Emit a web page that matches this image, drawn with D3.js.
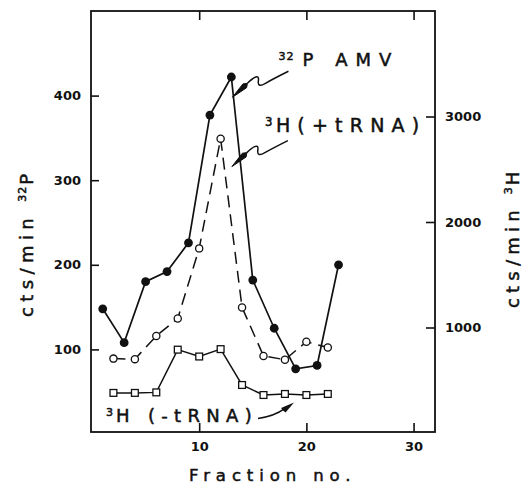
<!DOCTYPE html>
<html>
<head>
<meta charset="utf-8">
<script src="https://cdn.jsdelivr.net/npm/d3@7"></script>
<style>
body { margin: 0; background: #fff; }
text { font-family: "DejaVu Sans", sans-serif; fill: #111; }
.lbl { stroke: #111; stroke-width: 0.5; }
</style>
</head>
<body>
<script>
const WIDTH = 522;
const HEIGHT = 485;
const LEFT = 91, RIGHT = 435, TOP = 11, BOTTOM = 432;

// 32P AMV : filled circles, left axis
const pFractions = [1, 3, 5, 7, 9, 11, 13, 15, 17, 19, 21, 23];
const pCounts = [148, 108, 180, 192, 226, 377, 422, 182, 125, 77, 81, 200];

// 3H (+tRNA) : open circles, dashed line, right axis
const plusFractions = [2, 4, 6, 8, 10, 12, 14, 16, 18, 20, 22];
const plusCounts = [705, 700, 920, 1085, 1750, 2790, 1190, 730, 695, 865, 810];

// 3H (-tRNA) : open squares, right axis
const minusFractions = [2, 4, 6, 8, 10, 12, 14, 16, 18, 20, 22];
const minusCounts = [380, 380, 385, 790, 725, 795, 455, 360, 370, 360, 370];

const xTicks = [10, 20, 30];
const leftTicks = [100, 200, 300, 400];
const rightTicks = [1000, 2000, 3000];

const svg = d3.select("body").append("svg")
    .attr("width", WIDTH)
    .attr("height", HEIGHT);

const x = d3.scaleLinear().domain([0, 32]).range([LEFT + 1, RIGHT]);
const yL = d3.scaleLinear().domain([0, 500]).range([BOTTOM + 2, TOP]);
const yR = d3.scaleLinear().domain([0, 4000]).range([BOTTOM + 1, TOP]);

// frame
svg.append("rect")
    .attr("x", LEFT).attr("y", TOP)
    .attr("width", RIGHT - LEFT).attr("height", BOTTOM - TOP)
    .attr("fill", "none").attr("stroke", "#111").attr("stroke-width", 1.8);

// axes, ticks pointing inward
const styleAxis = g => {
    g.select(".domain").remove();
    g.selectAll(".tick line").attr("stroke", "#111").attr("stroke-width", 1.6);
    g.selectAll(".tick text")
        .style("font-family", "'DejaVu Sans', sans-serif")
        .style("font-size", "13px")
        .style("font-weight", "bold")
        .attr("fill", "#111");
};

svg.append("g").attr("transform", "translate(0," + BOTTOM + ")")
    .call(d3.axisBottom(x).tickValues(xTicks).tickSize(-9).tickPadding(10))
    .call(styleAxis);

svg.append("g").attr("transform", "translate(0," + TOP + ")")
    .call(d3.axisTop(x).tickValues(xTicks).tickSize(-9).tickFormat(""))
    .call(styleAxis);

svg.append("g").attr("transform", "translate(" + LEFT + ",0)")
    .call(d3.axisLeft(yL).tickValues(leftTicks).tickSize(-8).tickPadding(10))
    .call(styleAxis);

svg.append("g").attr("transform", "translate(" + RIGHT + ",0)")
    .call(d3.axisRight(yR).tickValues(rightTicks).tickSize(-9).tickPadding(10).tickFormat(d3.format("d")))
    .call(styleAxis);

// series
const pData = pFractions.map((f, i) => ({f: f, v: pCounts[i]}));
const plusData = plusFractions.map((f, i) => ({f: f, v: plusCounts[i]}));
const minusData = minusFractions.map((f, i) => ({f: f, v: minusCounts[i]}));

const lineL = d3.line().x(d => x(d.f)).y(d => yL(d.v));
const lineR = d3.line().x(d => x(d.f)).y(d => yR(d.v));

svg.append("path").datum(minusData)
    .attr("d", lineR).attr("fill", "none")
    .attr("stroke", "#111").attr("stroke-width", 1.5);

svg.append("path").datum(plusData)
    .attr("d", lineR).attr("fill", "none")
    .attr("stroke", "#111").attr("stroke-width", 1.5)
    .attr("stroke-dasharray", "12,7");

svg.append("path").datum(pData)
    .attr("d", lineL).attr("fill", "none")
    .attr("stroke", "#111").attr("stroke-width", 1.7);

svg.selectAll(".sq").data(minusData).enter().append("rect")
    .attr("x", d => x(d.f) - 3.4).attr("y", d => yR(d.v) - 3.4)
    .attr("width", 6.8).attr("height", 6.8)
    .attr("fill", "#fff").attr("stroke", "#111").attr("stroke-width", 1.3);

svg.selectAll(".oc").data(plusData).enter().append("circle")
    .attr("cx", d => x(d.f)).attr("cy", d => yR(d.v)).attr("r", 3.6)
    .attr("fill", "#fff").attr("stroke", "#111").attr("stroke-width", 1.3);

svg.selectAll(".fc").data(pData).enter().append("circle")
    .attr("cx", d => x(d.f)).attr("cy", d => yL(d.v)).attr("r", 4.4)
    .attr("fill", "#111");

// labels with squiggly leaders
const squiggle = "M15,-14 C20,-19 27,-24 26,-17 C25,-11 28,-11 33,-14 C42,-19 50,-23 56,-26";
const head = "M0,0 L10.5,-13.4 L15,-14 L14.2,-9.6 Z";

const leader = (tx, ty) => {
    const g = svg.append("g").attr("transform", "translate(" + tx + "," + ty + ")");
    g.append("path").attr("d", squiggle).attr("fill", "none")
        .attr("stroke", "#111").attr("stroke-width", 1.5);
    g.append("path").attr("d", head).attr("fill", "#111")
        .attr("stroke", "#111").attr("stroke-width", 1);
};

// superscript isotope number + main text, wide spaced like the original lettering
const label = (lx, ly, sup, main, size, spacing, gap) => {
    const t = svg.append("text").attr("class", "lbl").attr("x", lx).attr("y", ly)
        .style("font-size", size + "px");
    t.append("tspan").text(sup)
        .style("font-size", (size * 0.62) + "px").style("letter-spacing", "1px")
        .attr("dy", -6);
    t.append("tspan").text(main)
        .style("letter-spacing", spacing + "px")
        .attr("dy", 6).attr("dx", gap);
};

// 32P AMV
const pTipX = x(13.1), pTipY = yL(398);
leader(pTipX, pTipY);
label(pTipX + 46, pTipY - 31, "32", "P AMV", 18, 8, 8);

// 3H (+tRNA)
const plusTipX = x(13.05), plusTipY = yR(2525);
leader(plusTipX, plusTipY);
label(plusTipX + 33, plusTipY - 35, "3", "H(+tRNA)", 19, 7.2, 2.5);

// 3H (-tRNA)
const minusTipX = x(18.85), minusTipY = yR(290);
const mg = svg.append("g").attr("transform", "translate(" + minusTipX + "," + minusTipY + ")");
mg.append("path").attr("d", "M-36,16 Q-20,14 -9,6").attr("fill", "none")
    .attr("stroke", "#111").attr("stroke-width", 1.5);
mg.append("path").attr("d", "M0,0 L-13,5.5 L-11,8 L-8.5,10 Z").attr("fill", "#111");
label(106, 422, "3", "H (-tRNA)", 18, 6.3, 2);

// axis titles, reading bottom to top
const axisTitle = (tx, ty, sup, main, spacing) => {
    const t = svg.append("text").attr("class", "lbl")
        .attr("transform", "translate(" + tx + "," + ty + ") rotate(-90)")
        .style("font-size", "18px");
    t.append("tspan").text("cts/min ").style("letter-spacing", spacing + "px");
    t.append("tspan").text(sup).style("font-size", "11px")
        .style("letter-spacing", "1px").attr("dy", -7);
    t.append("tspan").text(main).attr("dy", 7).attr("dx", 1);
};
axisTitle(33, 317, "32", "P", 5.4);
axisTitle(519, 308, "3", "H", 5.2);

svg.append("text").attr("class", "lbl")
    .attr("x", 189).attr("y", 481)
    .style("font-size", "16.5px").style("letter-spacing", "5.9px")
    .text("Fraction no.");
</script>
</body>
</html>
